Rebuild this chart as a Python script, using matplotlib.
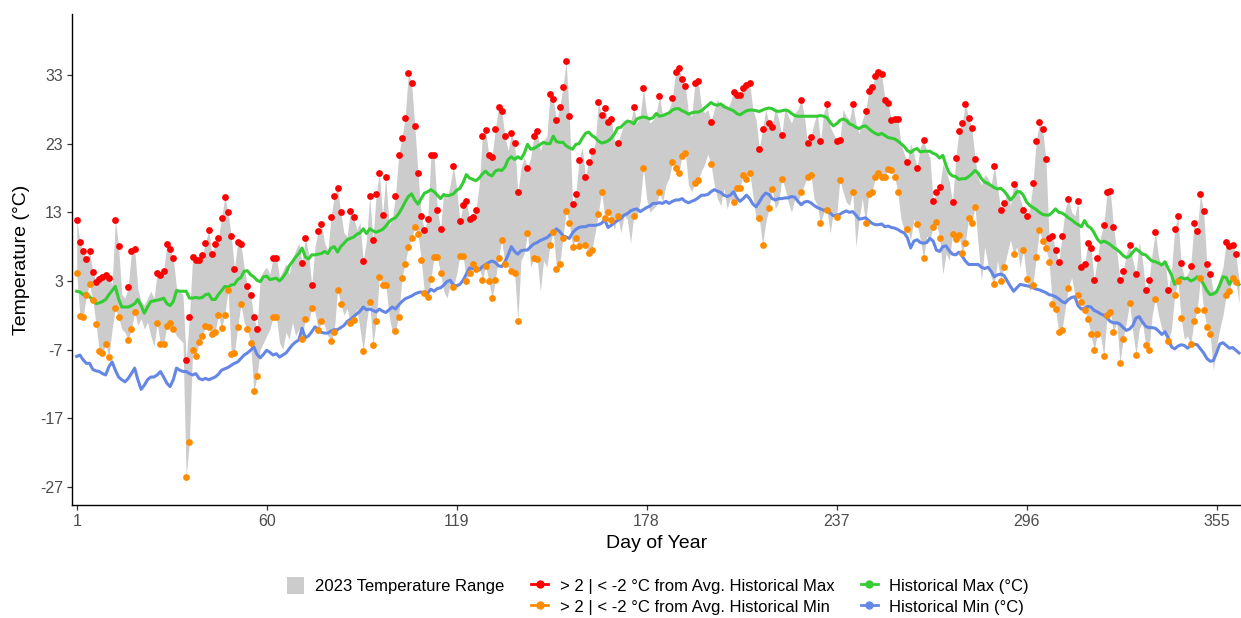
import numpy as np
import matplotlib.pyplot as plt
from matplotlib.lines import Line2D
from matplotlib.patches import Patch

plt.rcParams['font.family'] = ['Liberation Sans', 'DejaVu Sans']
plt.rcParams['axes.unicode_minus'] = False

# 2023 daily max / min (day 1 .. 362, the chart is cut at the right edge)
tmax = [11.9, 8.7, 7.3, 6.2, 7.3, 4.3, 2.9, 3.3, 3.6, 3.9,
        3.4, 2.5, 11.9, 8.1, 1.0, 0.5, 2.1, 7.3, 7.6, 1.8,
        0.0, -0.5, 0.5, 1.5, 0.5, 4.2, 3.9, 4.5, 8.4, 7.6,
        6.3, 2.0, 1.5, 1.0, -8.5, -2.3, 6.5, 6.0, 6.0, 6.8,
        8.6, 10.4, 6.9, 8.4, 9.3, 12.1, 15.3, 13.0, 9.6, 4.8,
        8.7, 8.4, 5.0, 2.2, 1.0, -2.3, -4.0, 3.5, 4.5, 5.0,
        4.0, 6.4, 6.4, 3.5, 4.5, 5.5, 4.0, 6.0, 7.5, 8.5,
        5.6, 9.3, 7.0, 2.4, 8.0, 10.3, 11.3, 8.5, 7.5, 12.3,
        15.4, 16.6, 13.0, 10.0, 9.5, 13.2, 12.3, 10.5, 11.5, 5.9,
        9.0, 15.4, 9.0, 15.6, 18.8, 12.6, 18.2, 11.0, 12.0, 15.4,
        21.3, 23.8, 26.8, 33.3, 31.8, 25.6, 18.7, 12.5, 10.4, 12.0,
        21.3, 21.4, 13.4, 10.6, 16.0, 15.0, 17.0, 19.7, 16.5, 11.7,
        14.1, 14.7, 12.0, 12.3, 13.4, 17.0, 24.1, 25.0, 21.3, 21.1,
        25.1, 28.3, 27.7, 24.1, 22.0, 24.5, 23.1, 15.9, 19.5, 21.0,
        19.5, 21.0, 24.1, 24.8, 22.0, 23.5, 24.0, 30.2, 29.5, 26.4,
        28.3, 31.2, 35.1, 27.0, 14.2, 15.6, 20.6, 22.5, 18.2, 20.4,
        21.9, 23.0, 29.1, 27.2, 28.2, 26.2, 26.6, 23.5, 23.1, 24.5,
        26.0, 26.5, 26.0, 28.3, 26.0, 27.0, 31.1, 27.5, 26.0, 26.5,
        27.5, 30.0, 27.0, 27.5, 28.0, 29.6, 33.5, 34.0, 32.5, 31.4,
        27.5, 27.0, 31.8, 32.1, 28.5, 27.5, 28.0, 26.2, 28.0, 29.5,
        28.5, 29.0, 28.0, 29.0, 30.5, 30.1, 30.1, 31.1, 31.6, 31.9,
        28.0, 26.5, 22.3, 25.2, 28.0, 26.0, 25.5, 28.5, 26.5, 24.2,
        28.5, 27.0, 26.0, 27.5, 28.0, 29.4, 27.0, 23.1, 24.0, 26.0,
        27.5, 23.4, 27.5, 28.8, 25.5, 24.5, 23.4, 23.5, 28.0, 27.0,
        26.5, 28.8, 26.0, 24.5, 26.5, 27.7, 30.7, 31.2, 32.9, 33.4,
        33.1, 29.4, 29.0, 26.4, 26.6, 26.6, 23.0, 21.5, 20.4, 23.0,
        21.5, 19.5, 22.5, 23.5, 22.0, 21.0, 14.6, 15.9, 16.7, 20.0,
        19.0, 17.5, 14.5, 20.9, 24.9, 26.0, 28.8, 26.8, 25.3, 20.8,
        18.0, 17.0, 18.5, 18.0, 17.0, 19.7, 16.5, 13.4, 14.4, 16.0,
        14.0, 17.1, 17.0, 15.0, 13.4, 12.4, 13.5, 17.3, 23.4, 26.1,
        25.1, 20.8, 9.3, 9.5, 7.5, 5.7, 9.5, 13.5, 15.0, 13.0,
        12.5, 14.6, 5.1, 5.4, 8.5, 7.8, 3.1, 6.3, 9.5, 11.1,
        16.0, 16.1, 10.9, 7.5, 3.1, 4.4, 7.0, 8.3, 6.0, 4.0,
        8.7, 6.0, 1.7, 3.1, 7.0, 10.1, 6.5, 5.0, 6.0, 1.7,
        4.5, 10.6, 12.4, 5.6, 3.5, 4.0, 5.2, 11.4, 10.3, 15.6,
        13.2, 5.4, 4.0, 1.5, 2.0, 3.5, 5.0, 8.7, 8.1, 8.3,
        6.9, 3.0]

tmin = [4.1, -2.1, -2.3, 1.0, 2.5, 0.2, -3.3, -7.2, -7.5, -6.2,
        -8.1, -4.0, -1.0, -2.3, -4.0, -4.5, -5.6, -4.0, -1.5, -3.5,
        -2.5, -4.0, -3.0, -5.0, -6.5, -3.2, -6.2, -6.2, -3.6, -3.1,
        -4.0, -5.0, -5.5, -6.0, -25.6, -20.4, -7.1, -8.0, -5.9, -5.0,
        -3.6, -3.7, -4.8, -4.4, -2.0, -3.9, -1.9, 1.7, -7.7, -7.5,
        -3.7, -0.4, -3.0, -4.0, -6.1, -13.1, -10.9, -7.0, -6.0, -5.0,
        -4.0, -2.3, -2.2, -6.0, -7.0, -4.5, -5.5, -3.0, -5.0, -4.0,
        -5.5, -2.5, -3.0, -0.9, -1.5, -4.2, -2.9, -3.5, -5.0, -5.7,
        -4.4, 1.7, -0.3, -2.0, -1.0, -3.2, -2.7, -1.0, -4.0, -7.2,
        -3.0, 0.0, -6.3, -2.9, 3.6, 2.4, 2.4, -2.0, -4.5, -4.3,
        -2.2, 3.4, 5.5, 8.0, 9.2, 10.8, 9.9, 6.0, 1.2, 0.6,
        3.3, 6.5, 6.5, 4.1, 1.5, 0.5, 2.5, 2.1, 4.0, 6.7,
        6.7, 3.0, 4.1, 5.4, 4.7, 5.0, 3.2, 5.2, 3.0, 0.5,
        3.1, 6.4, 9.0, 5.4, 5.0, 4.5, 4.2, -2.8, 6.0, 7.0,
        10.0, 5.0, 6.3, 6.2, 1.5, 6.0, 5.0, 8.2, 10.2, 4.8,
        5.4, 9.2, 13.2, 11.4, 8.0, 9.3, 8.1, 8.5, 8.3, 7.0,
        7.5, 10.0, 12.8, 16.0, 12.2, 13.1, 11.9, 10.5, 12.5, 10.0,
        12.5, 12.0, 8.5, 12.5, 12.5, 14.5, 19.5, 15.0, 13.0, 13.5,
        14.0, 15.9, 14.5, 17.0, 18.0, 20.3, 19.5, 18.8, 21.2, 21.6,
        17.0, 16.0, 17.3, 17.7, 19.0, 20.0, 21.5, 20.0, 17.0, 15.0,
        14.0, 16.5, 13.5, 15.0, 14.5, 16.6, 16.6, 18.4, 17.9, 18.8,
        15.5, 12.0, 12.1, 8.3, 11.5, 13.6, 16.4, 13.5, 14.5, 17.9,
        16.5, 14.5, 13.0, 15.0, 14.5, 15.9, 17.0, 18.2, 18.5, 15.0,
        14.0, 11.4, 13.0, 13.4, 10.0, 13.0, 12.3, 17.7, 16.0, 14.5,
        14.0, 16.0, 8.0, 12.0, 15.0, 11.4, 15.6, 15.9, 18.1, 18.8,
        18.2, 18.2, 19.3, 19.1, 18.2, 16.0, 12.0, 10.5, 10.6, 9.0,
        12.0, 11.3, 9.0, 6.4, 9.5, 9.0, 10.9, 11.6, 9.2, 4.0,
        7.0, 6.0, 9.8, 9.1, 9.7, 7.1, 8.6, 12.2, 11.5, 13.8,
        8.0, 3.0, 8.0, 5.5, 3.5, 2.6, 6.0, 3.0, 5.0, 7.0,
        9.0, 6.9, 8.0, 5.0, 7.5, 3.3, 1.5, 2.4, 6.5, 10.4,
        8.8, 7.8, 5.8, -0.4, -1.1, -4.4, -4.2, -1.0, 2.0, 3.5,
        1.0, 0.9, 0.0, -1.2, -2.6, -4.8, -7.1, -4.8, -5.0, -7.9,
        -2.0, -1.5, -4.5, -3.0, -8.9, -5.5, -3.0, -0.2, -4.5, -7.8,
        -4.0, -3.0, -6.4, -7.1, -2.0, 0.4, -2.0, -4.0, -5.0, -5.8,
        -4.0, 0.9, 3.0, -2.4, -5.5, -5.0, -6.2, -2.9, -1.3, 3.4,
        -1.3, -3.7, -4.8, -10.0, -6.5, -4.0, -2.0, 0.9, 1.5, 3.5,
        2.9, -0.3]

hist_max = [1.5, 1.4, 1.0, 1.2, 0.7, 0.2, -0.3, -0.2, 0.0, 0.3,
            1.0, 1.6, 2.2, 0.4, -0.8, -0.8, -0.8, -0.6, -0.3, 0.3,
            -0.6, -1.7, -0.8, 0.0, 0.1, 0.2, 0.3, 0.5, -0.3, -0.6,
            0.0, 1.6, 1.5, 1.5, 1.5, 0.5, 0.5, 0.6, 0.5, 0.6,
            1.0, 1.1, 0.3, 0.3, 1.0, 1.6, 2.2, 2.1, 2.4, 2.5,
            3.2, 3.5, 4.4, 4.5, 3.9, 3.6, 3.1, 2.9, 3.6, 3.7,
            3.2, 3.3, 3.4, 3.0, 3.5, 4.2, 5.2, 5.8, 6.5, 7.0,
            7.8, 6.5, 6.2, 6.8, 6.8, 6.9, 7.0, 7.3, 7.0, 7.8,
            8.0, 7.2, 8.0, 8.5, 9.0, 9.2, 9.4, 9.8, 10.0, 10.6,
            9.9, 10.6, 10.3, 10.1, 10.3, 10.5, 11.0, 11.6, 12.0, 12.2,
            12.8, 13.6, 14.5, 15.3, 15.7, 14.8, 14.2, 15.0, 15.8, 16.0,
            16.3, 16.0, 15.5, 15.0, 15.6, 15.4, 15.5, 15.7, 16.2, 16.5,
            17.3, 18.5, 18.0, 17.8, 17.6, 18.0, 18.6, 19.0, 18.5, 18.3,
            19.0, 19.2, 19.1, 19.6, 20.7, 21.1, 20.7, 21.1, 20.8, 21.6,
            22.9, 22.2, 22.3, 22.6, 22.9, 23.2, 23.0, 23.0, 24.1, 23.3,
            23.2, 23.2, 22.7, 22.4, 22.2, 22.9, 23.0, 23.8, 24.5, 24.7,
            24.2, 23.9, 23.4, 23.1, 23.2, 23.4, 23.8, 24.4, 25.3, 25.4,
            25.9, 26.3, 26.2, 25.9, 26.6, 26.8, 26.9, 26.8, 26.6, 26.8,
            27.4, 27.0, 27.1, 27.3, 27.5, 27.9, 28.1, 28.1, 27.8, 27.6,
            27.3, 27.5, 27.6, 27.6, 27.8, 28.2, 28.6, 29.0, 28.7, 28.6,
            28.8, 28.4, 28.2, 28.0, 27.8, 27.4, 27.2, 27.5, 27.8, 27.9,
            27.9, 27.8, 27.7, 27.9, 28.1, 28.2, 28.1, 27.8, 27.7, 27.8,
            27.9, 27.8, 27.4, 27.1, 27.0, 27.0, 27.0, 27.0, 27.0, 27.0,
            27.0, 27.1, 27.0, 26.8, 26.1, 25.6, 25.9, 26.4, 26.6, 26.4,
            25.9, 25.7, 25.4, 25.2, 25.5, 25.6, 25.2, 24.8, 24.5, 24.3,
            24.5, 24.2, 23.9, 23.8, 23.7, 23.4, 23.0, 22.6, 22.0, 21.7,
            22.1, 22.3, 21.8, 21.9, 21.9, 21.9, 21.6, 21.4, 20.9, 21.3,
            19.8, 18.7, 18.3, 18.2, 17.8, 17.9, 17.9, 18.2, 18.6, 19.1,
            18.7, 17.9, 17.4, 17.2, 16.9, 16.6, 16.4, 16.5, 16.1, 15.5,
            14.8, 15.3, 16.0, 16.0, 15.5, 14.5, 14.0, 13.7, 13.4, 13.0,
            12.7, 12.6, 12.6, 13.0, 13.5, 13.0, 12.9, 12.6, 12.2, 11.9,
            11.5, 11.2, 10.9, 11.8, 11.0, 10.7, 10.0, 9.1, 8.6, 8.8,
            8.6, 8.3, 7.9, 7.6, 7.2, 6.7, 6.4, 6.6, 7.2, 7.7,
            7.3, 6.9, 6.8, 6.3, 5.9, 5.8, 5.6, 5.3, 5.8, 4.8,
            3.9, 2.5, 3.2, 3.5, 3.3, 3.4, 3.0, 3.2, 3.6, 3.3,
            2.5, 1.6, 1.0, 1.1, 1.4, 2.4, 3.6, 3.5, 2.5, 3.3,
            3.0, 2.5]

hist_min = [-8.0, -7.8, -8.5, -9.0, -9.0, -9.9, -10.1, -10.2, -10.5, -10.7,
            -9.5, -8.8, -10.0, -11.0, -11.4, -11.7, -11.2, -10.5, -9.7, -11.4,
            -12.8, -12.2, -11.4, -11.0, -11.0, -10.7, -10.2, -11.0, -11.9, -12.4,
            -11.4, -9.7, -10.0, -10.2, -10.2, -10.5, -10.7, -10.5, -11.2, -11.4,
            -11.2, -11.4, -11.2, -11.0, -10.6, -10.0, -9.8, -9.6, -9.3, -9.0,
            -8.8, -8.3, -7.8, -7.5, -7.1, -6.6, -7.7, -8.2, -7.7, -7.1,
            -7.4, -7.8, -7.6, -8.1, -7.8, -7.5, -6.9, -6.3, -5.9, -5.6,
            -3.9, -5.3, -5.0, -4.4, -3.7, -4.0, -4.5, -4.6, -4.6, -4.3,
            -4.1, -4.1, -3.8, -3.5, -2.9, -2.6, -2.2, -1.8, -1.4, -0.8,
            -1.2, -1.1, -1.3, -1.5, -1.1, -1.4, -1.6, -1.2, -0.8, -1.1,
            -0.5, 0.0, 0.4, 0.6, 0.8, 1.1, 1.3, 1.4, 1.1, 1.2,
            1.8, 1.5, 1.9, 2.0, 2.4, 2.9, 3.1, 2.4, 2.3, 2.5,
            3.1, 4.0, 4.9, 4.8, 4.6, 4.6, 5.1, 5.4, 5.7, 5.9,
            5.7, 5.2, 5.1, 5.8, 6.8, 8.0, 7.3, 6.9, 7.4, 7.5,
            7.5, 8.0, 8.4, 8.6, 8.9, 9.1, 9.3, 9.7, 10.1, 10.6,
            10.2, 9.6, 9.4, 9.2, 10.0, 10.5, 10.8, 10.9, 10.9, 11.1,
            11.1, 11.1, 11.2, 11.4, 11.9, 10.8, 11.1, 11.5, 11.8, 12.1,
            12.6, 12.8, 13.2, 13.4, 13.5, 13.1, 13.4, 13.7, 13.9, 14.3,
            14.3, 14.4, 14.3, 14.6, 14.3, 14.6, 14.8, 14.8, 15.0, 14.6,
            14.4, 14.6, 14.8, 15.1, 15.5, 15.5, 15.6, 16.0, 16.3, 16.1,
            15.9, 15.5, 15.3, 15.5, 16.0, 15.1, 14.6, 15.0, 15.5, 15.0,
            14.2, 13.8, 14.5, 15.3, 15.8, 15.6, 15.0, 14.8, 15.0, 15.0,
            15.1, 15.1, 15.3, 15.2, 14.6, 14.1, 14.5, 14.6, 14.4, 14.0,
            13.7, 13.5, 13.3, 13.4, 12.9, 12.5, 12.6, 12.7, 13.0, 13.2,
            13.0, 13.1, 12.6, 12.0, 12.1, 12.2, 11.8, 11.4, 11.2, 11.2,
            11.3, 10.9, 11.0, 10.8, 10.7, 10.5, 10.2, 10.0, 9.3, 7.8,
            8.8, 9.0, 8.6, 8.5, 8.6, 9.2, 8.8, 7.5, 7.3, 8.0,
            8.1, 7.4, 6.9, 6.8, 7.2, 6.6, 5.9, 5.4, 5.4, 5.4,
            5.4, 5.0, 4.8, 5.0, 4.4, 3.6, 3.9, 4.0, 3.8, 3.0,
            2.2, 1.5, 2.0, 2.5, 2.4, 2.3, 2.2, 2.0, 1.8, 1.7,
            1.5, 1.3, 1.0, 0.9, 0.7, 0.4, 0.0, -0.2, 0.3, 0.6,
            0.7, -0.6, -1.1, -1.0, -0.7, -0.8, -1.3, -1.5, -1.8, -2.0,
            -2.4, -2.9, -3.1, -3.1, -3.3, -3.8, -4.2, -4.0, -3.5, -2.4,
            -2.2, -3.0, -3.6, -3.8, -3.8, -3.9, -4.3, -4.8, -4.4, -5.3,
            -6.6, -6.9, -6.5, -6.3, -6.4, -6.8, -6.4, -6.2, -6.3, -6.9,
            -7.5, -8.3, -8.7, -8.6, -7.5, -6.2, -6.0, -6.4, -6.8, -6.7,
            -7.1, -7.5]

# days marked with a dot (> 2 | < -2 from the historical average)
flag_days = [*range(1, 12), 13, 14, 17, 18, 19, *range(26, 32), *range(35, 53),
             *range(54, 58), 62, 63, 71, 72, 74, 76, 77, *range(80, 84), 86, 87, 90,
             *range(92, 98), *range(100, 115), 118, *range(120, 126), *range(127, 135),
             136, 137, 138, 141, 143, 144, *range(148, 158), 159, 160, 161,
             *range(163, 168), 169, 174, 177, 182, *range(186, 191), 193, 194, 198,
             *range(205, 211), 213, 214, 216, 217, 220, 226, 228, 229, 232, 234, 237,
             238, 242, *range(246, 257), 259, 262, 264, 267, 268, 269, *range(273, 281),
             286, 288, 289, 292, 295, 296, *range(298, 308), 309, *range(312, 319),
             *range(320, 324), 325, 326, 328, 330, 333, 334, 336, 340, 342, 343, 344,
             *range(347, 354), *range(358, 362)]

x_ticks = [1, 60, 119, 178, 237, 296, 355]
y_ticks = [-27, -17, -7, 3, 13, 23, 33]

c_range = '#CCCCCC'
c_red = '#FF0000'
c_orange = '#FF8C00'
c_green = '#33CC33'
c_blue = '#6487E6'

days = np.arange(1, len(tmax) + 1)
tmax = np.array(tmax)
tmin = np.array(tmin)
idx = np.array(flag_days) - 1

fig = plt.figure(figsize=(12.41, 6.18), dpi=100)
ax = fig.add_axes([72 / 1241, 113 / 618, 1 - 72 / 1241, 491 / 618])

ax.fill_between(days, tmin, tmax, color=c_range, lw=0, zorder=1)
ax.plot(days, hist_max, color=c_green, lw=2.2, zorder=2)
ax.plot(days, hist_min, color=c_blue, lw=2.2, zorder=2)
ax.scatter(days[idx], tmax[idx], s=24, color=c_red, lw=0, zorder=3)
ax.scatter(days[idx], tmin[idx], s=24, color=c_orange, lw=0, zorder=3)

ax.set_xlim(-0.46, 362.6)
ax.set_ylim(-29.65, 41.9)
ax.set_xticks(x_ticks)
ax.set_yticks(y_ticks)
for s in ['top', 'right']:
    ax.spines[s].set_visible(False)
for s in ['left', 'bottom']:
    ax.spines[s].set_linewidth(1.0)
    ax.spines[s].set_color('black')
ax.tick_params(length=3.5, width=0.9, color='#333333', labelsize=11.5,
               labelcolor='#4D4D4D', pad=3)

fig.text(657 / 1241, 1 - 543 / 618, 'Day of Year', fontsize=14,
         ha='center', va='center')
fig.text(22 / 1241, 1 - 260 / 618, 'Temperature (°C)', fontsize=14,
         rotation=90, ha='center', va='center')

handles = [Patch(facecolor=c_range, edgecolor='none'),
           Line2D([], [], alpha=0),
           Line2D([], [], color=c_red, marker='o', markersize=5, lw=2),
           Line2D([], [], color=c_orange, marker='o', markersize=5, lw=2),
           Line2D([], [], color=c_green, marker='o', markersize=5, lw=2),
           Line2D([], [], color=c_blue, marker='o', markersize=5, lw=2)]
labels = ['2023 Temperature Range', '',
          '> 2 | < -2 °C from Avg. Historical Max',
          '> 2 | < -2 °C from Avg. Historical Min',
          'Historical Max (°C)', 'Historical Min (°C)']
fig.legend(handles, labels, loc='upper center', bbox_to_anchor=(658 / 1241, 1 - 562 / 618),
           ncol=3, frameon=False, fontsize=12, handlelength=1.0, handleheight=1.2,
           handletextpad=0.7, columnspacing=1.6, labelspacing=0.22)

fig.savefig('out.png', dpi=100)
